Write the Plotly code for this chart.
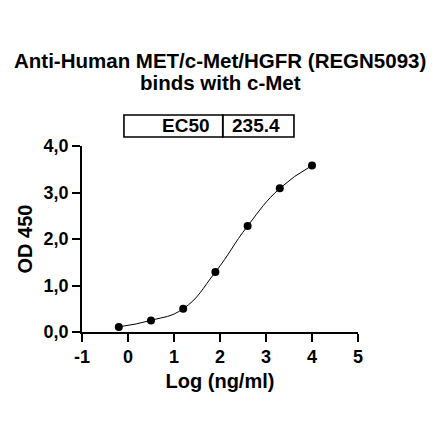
import plotly.graph_objects as go

log_conc = [-0.2, 0.5, 1.2, 1.9, 2.6, 3.3, 4.0]
od450 = [0.11, 0.25, 0.50, 1.29, 2.28, 3.09, 3.58]
x_ticks = [-1, 0, 1, 2, 3, 4, 5]
x_tick_labels = ["-1", "0", "1", "2", "3", "4", "5"]
y_ticks = [0, 1, 2, 3, 4]
y_tick_labels = ["0,0", "1,0", "2,0", "3,0", "4,0"]
title_lines = ["Anti-Human MET/c-Met/HGFR (REGN5093)", "binds with c-Met"]
ec50_label = "EC50"
ec50_value = "235.4"

FONT = "Liberation Sans, Arial, sans-serif"


def build_chart() -> go.Figure:
    fig = go.Figure()

    # fitted curve (smoothed through the measured points)
    fig.add_scatter(
        x=log_conc, y=od450, mode="lines",
        line=dict(color="black", width=1, shape="spline", smoothing=1.3),
        hoverinfo="skip", showlegend=False,
    )
    fig.add_scatter(
        x=log_conc, y=od450, mode="markers",
        marker=dict(color="black", size=8),
        showlegend=False,
    )

    axis_common = dict(
        showgrid=False, zeroline=False, showline=True, linecolor="black",
        linewidth=1.6, ticks="outside", ticklen=8, tickwidth=1.6,
        tickcolor="black",
        tickfont=dict(family=FONT, size=18, color="black", weight="bold"),
    )
    fig.update_xaxes(
        range=[-1, 5], tickvals=x_ticks, ticktext=x_tick_labels,
        title=dict(text="<b>Log (ng/ml)</b>", font=dict(family=FONT, size=20, color="black"), standoff=8),
        **axis_common,
    )
    fig.update_yaxes(
        range=[0, 4], tickvals=y_ticks, ticktext=y_tick_labels,
        title=dict(text="<b>OD 450</b>", font=dict(family=FONT, size=20, color="black"), standoff=6),
        **axis_common,
    )

    # two-line title, placed line by line for tighter spacing
    for line, ypos in zip(title_lines, [1.461, 1.343]):
        fig.add_annotation(
            x=0.5, y=ypos, xref="paper", yref="paper", text=f"<b>{line}</b>",
            showarrow=False, xanchor="center", yanchor="middle",
            font=dict(family=FONT, size=20.5, color="black"),
        )

    # EC50 table above the plot
    box = dict(type="rect", xref="paper", yref="paper", line=dict(color="black", width=1.6))
    fig.add_shape(x0=0.152, x1=0.510, y0=1.048, y1=1.167, **box)
    fig.add_shape(x0=0.510, x1=0.768, y0=1.048, y1=1.167, **box)
    fig.add_annotation(
        x=0.470, y=1.108, xref="paper", yref="paper", text=f"<b>{ec50_label}</b>",
        showarrow=False, xanchor="right", yanchor="middle",
        font=dict(family=FONT, size=19, color="black"),
    )
    fig.add_annotation(
        x=0.537, y=1.108, xref="paper", yref="paper", text=f"<b>{ec50_value}</b>",
        showarrow=False, xanchor="left", yanchor="middle",
        font=dict(family=FONT, size=19, color="black"),
    )

    # page body adds an 8px margin, so the figure is drawn 8px smaller
    fig.update_layout(
        width=432, height=433,
        margin=dict(l=74, r=82, t=138, b=109),
        plot_bgcolor="white", paper_bgcolor="white",
    )
    return fig


if __name__ == "__main__":
    fig = build_chart()
    fig.write_html("out.html")
